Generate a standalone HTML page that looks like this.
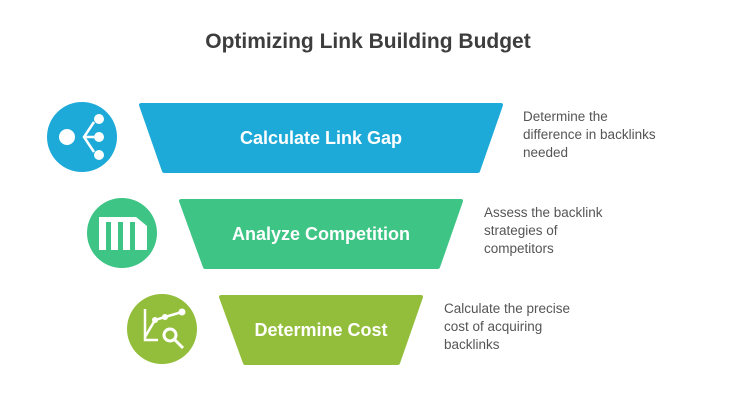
<!DOCTYPE html>
<html><head><style>
body{margin:0;background:#fff;width:737px;height:415px;overflow:hidden;font-family:"Liberation Sans",sans-serif}
</style></head><body>
<svg width="737" height="415" xmlns="http://www.w3.org/2000/svg">
<text x="368" y="48" text-anchor="middle" font-family="Liberation Sans" font-weight="bold" font-size="21" fill="#3d3d3d">Optimizing Link Building Budget</text>
<g stroke-linejoin="round">
<path d="M141,105 L501,105 L478,171 L164,171 Z" fill="#1EAAD9" stroke="#1EAAD9" stroke-width="4"/>
<path d="M181,201 L461,201 L438,267 L205,267 Z" fill="#3EC485" stroke="#3EC485" stroke-width="4"/>
<path d="M221,297 L421,297 L398,363 L245,363 Z" fill="#93BE3B" stroke="#93BE3B" stroke-width="4"/>
</g>
<g font-family="Liberation Sans" font-weight="bold" font-size="18" fill="#fff" text-anchor="middle">
<text x="321" y="144">Calculate Link Gap</text>
<text x="321" y="240">Analyze Competition</text>
<text x="321" y="336">Determine Cost</text>
</g>
<circle cx="82" cy="137" r="35" fill="#1EAAD9"/>
<circle cx="122" cy="233" r="35" fill="#3EC485"/>
<circle cx="162" cy="329" r="35" fill="#93BE3B"/>
<g fill="#fff" stroke="#fff">
<circle cx="67" cy="137" r="8" stroke="none"/>
<circle cx="99" cy="119" r="5" stroke="none"/>
<circle cx="99" cy="137" r="5" stroke="none"/>
<circle cx="99" cy="155" r="5" stroke="none"/>
<path d="M94,122 L84,137 L94,152 M84,137 L94,137" fill="none" stroke-width="2.5"/>
<rect x="99" y="217" width="7" height="33" stroke="none"/>
<rect x="111" y="222" width="7" height="28" stroke="none"/>
<rect x="123" y="222" width="7" height="28" stroke="none"/>
<rect x="135" y="222" width="7" height="28" stroke="none"/>
<path d="M99,217 L136,217 L147,226 L147,250 L142,250 L142,222 L99,222Z" stroke="none"/>
<path d="M145,309 L145,340 L158,340" fill="none" stroke-width="2.5"/>
<path d="M145,337 L155,320 L165,317 L182,312" fill="none" stroke-width="2.5"/>
<circle cx="155" cy="320" r="3" stroke="none"/><circle cx="165" cy="317" r="3" stroke="none"/><circle cx="182" cy="312" r="3.5" stroke="none"/>
<circle cx="170" cy="335" r="6" fill="none" stroke-width="3"/>
<path d="M175,340 L183,348" stroke-width="3"/>
</g>
<g font-family="Liberation Sans" font-size="13.5" fill="#555">
<text x="523" y="121">Determine the</text><text x="523" y="139">difference in backlinks</text><text x="523" y="157">needed</text>
<text x="484" y="217">Assess the backlink</text><text x="484" y="235">strategies of</text><text x="484" y="253">competitors</text>
<text x="444" y="313">Calculate the precise</text><text x="444" y="331">cost of acquiring</text><text x="444" y="349">backlinks</text>
</g>
</svg>
</body></html>
